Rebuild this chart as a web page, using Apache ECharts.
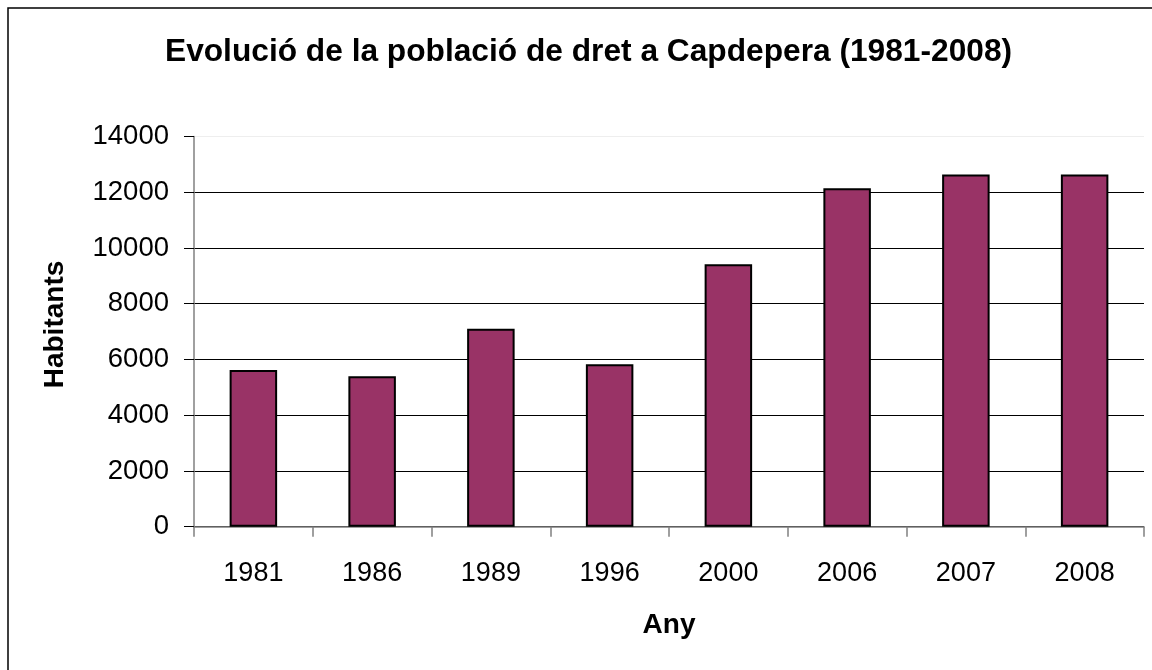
<!DOCTYPE html>
<html style="height: 100%">
  <head>
    <meta charset="utf-8">
  </head>
  <body style="height: 100%; margin: 0; background: #fff">
    <div id="container" style="width: 1152px; height: 670px"></div>
    <script type="text/javascript" src="https://cdn.jsdelivr.net/npm/echarts@6/dist/echarts.min.js"></script>
    <script type="text/javascript">
      // data
      let years = ['1981', '1986', '1989', '1996', '2000', '2006', '2007', '2008'];
      let habitants = [5620, 5400, 7100, 5830, 9420, 12140, 12640, 12640];
      let titleText = 'Evolució de la població de dret a Capdepera (1981-2008)';

      let dom = document.getElementById('container');
      let myChart = echarts.init(dom);
      let font = '"Liberation Sans", Arial, sans-serif';

      let option = {
        backgroundColor: '#fff',
        animation: false,
        title: {
          text: titleText,
          left: 160,
          top: 31,
          textStyle: {
            fontFamily: font,
            fontSize: 31.7,
            fontWeight: 'bold',
            color: '#000'
          }
        },
        grid: {
          left: 194,
          right: 8,
          top: 136.5,
          bottom: 143.3,
          containLabel: false
        },
        xAxis: {
          type: 'category',
          data: years,
          name: 'Any',
          nameLocation: 'middle',
          nameGap: 85,
          nameTextStyle: {
            fontFamily: font,
            fontSize: 28,
            fontWeight: 'bold',
            color: '#000'
          },
          axisLine: { lineStyle: { color: '#808080', width: 1.5 } },
          axisTick: {
            show: true,
            alignWithLabel: false,
            length: 10,
            lineStyle: { color: '#808080', width: 1.5 }
          },
          axisLabel: {
            margin: 33,
            fontFamily: font,
            fontSize: 27,
            color: '#000'
          }
        },
        yAxis: {
          type: 'value',
          min: 0,
          max: 14000,
          interval: 2000,
          axisLine: { show: true, lineStyle: { color: '#808080', width: 1.5 } },
          axisTick: {
            show: true,
            length: 10,
            lineStyle: { color: '#000', width: 1 }
          },
          axisLabel: {
            margin: 25,
            fontFamily: font,
            fontSize: 27.5,
            color: '#000',
            formatter: function (v) {
              return String(v);
            }
          },
          splitLine: {
            lineStyle: {
              color: ['#000', '#000', '#000', '#000', '#000', '#000', '#000', '#eeeeee'],
              width: 1
            }
          }
        },
        series: [{
          type: 'bar',
          data: habitants,
          barWidth: '40%',
          itemStyle: {
            color: '#993366',
            borderColor: '#000',
            borderWidth: 2
          }
        }],
        graphic: {
          elements: [{
            type: 'rect',
            shape: { x: 8, y: 8, width: 1160, height: 690 },
            style: { fill: 'none', stroke: '#000', lineWidth: 1.5 },
            silent: true
          }, {
            type: 'text',
            x: 55,
            y: 324.5,
            rotation: Math.PI / 2,
            style: {
              text: 'Habitants',
              font: 'bold 28px ' + font,
              fill: '#000',
              align: 'center',
              verticalAlign: 'middle'
            }
          }]
        }
      };

      myChart.setOption(option);
    </script>
  </body>
</html>
